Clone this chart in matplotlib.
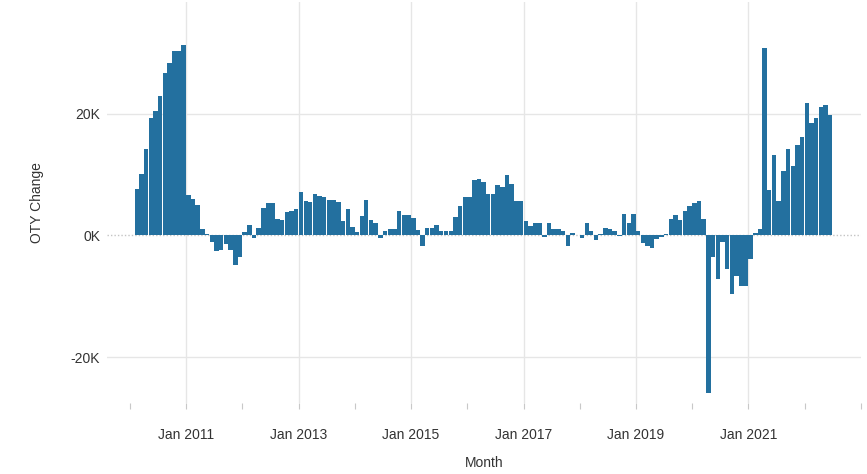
import numpy as np
import pandas as pd
import matplotlib
matplotlib.use("Agg")
import matplotlib.pyplot as plt
import matplotlib.dates as mdates

plt.rcParams['font.family'] = ['Liberation Sans', 'DejaVu Sans']

# Monthly over-the-year change, in thousands (Feb 2010 - Jun 2022)
months = pd.date_range("2010-02-01", "2022-06-01", freq="MS")
oty_change_k = [
    7.7, 10.1, 14.1, 19.2, 20.4, 22.9, 26.7, 28.3, 30.2, 30.2, 31.2,          # 2010
    6.7, 6.0, 5.0, 1.0, 0.2, -1.0, -2.5, -2.4, -1.4, -2.3, -4.9, -3.5,        # 2011
    0.6, 1.8, -0.4, 1.2, 4.5, 5.4, 5.4, 2.7, 2.5, 3.9, 4.0, 4.4,              # 2012
    7.2, 5.7, 5.5, 6.8, 6.5, 6.3, 5.8, 5.9, 5.5, 2.3, 4.4, 1.4,               # 2013
    0.6, 3.2, 5.9, 2.5, 2.0, -0.4, 0.7, 1.0, 1.0, 4.0, 3.4, 3.4,              # 2014
    2.8, 0.9, -1.7, 1.2, 1.2, 1.7, 0.8, 0.7, 0.7, 3.0, 4.8, 6.3,              # 2015
    6.3, 9.1, 9.2, 8.7, 6.8, 6.8, 8.2, 7.9, 10.0, 8.4, 5.7, 5.6,              # 2016
    2.3, 1.5, 2.0, 2.1, -0.3, 2.1, 1.0, 1.0, 0.7, -1.8, 0.4, 0.1,             # 2017
    -0.4, 2.1, 0.8, -0.7, 0.3, 1.2, 1.1, 0.8, -0.1, 3.6, 2.0, 3.6,            # 2018
    0.7, -1.3, -1.7, -2.0, -0.6, -0.2, 0.2, 2.7, 3.4, 2.6, 4.0, 4.9,          # 2019
    5.3, 5.7, 2.7, -25.8, -3.6, -7.2, -1.0, -5.5, -9.6, -6.7, -8.2, -8.2,     # 2020
    -3.9, 0.4, 1.1, 30.8, 7.5, 13.2, 5.7, 10.5, 14.2, 11.4, 14.8, 16.1,       # 2021
    21.8, 18.5, 19.3, 21.1, 21.4, 19.8,                                       # 2022
]

label_years = [2011, 2013, 2015, 2017, 2019, 2021]
y_ticks = [-20, 0, 20]

bar_color = "#23709f"
grid_color = "#e6e6e6"
text_color = "#333333"

fig = plt.figure(figsize=(8.67, 4.74), dpi=100)
ax = fig.add_axes([107 / 867, 1 - 403 / 474, (861 - 107) / 867, (403 - 2) / 474])

# --- bars ---
ax.bar(months, oty_change_k, width=29, align="edge", color=bar_color,
       linewidth=0, zorder=3)

# --- zero line (dotted) and grid ---
ax.axhline(0, color="#c4c4c4", linestyle=(0, (1, 1.5)), linewidth=1, zorder=1)
for yv in y_ticks:
    if yv != 0:
        ax.axhline(yv, color=grid_color, linewidth=1, zorder=0)

major_ticks = pd.to_datetime([f"{y}-01-01" for y in label_years])
for d in major_ticks:
    ax.axvline(d, color=grid_color, linewidth=1, zorder=0)

# --- axes ---
ax.set_xlim(pd.Timestamp("2009-08-04"), pd.Timestamp("2023-01-02"))
ax.set_ylim(-27.46, 38.28)

ax.set_xticks(major_ticks)
ax.set_xticklabels([f"Jan {y}" for y in label_years])
ax.xaxis.set_minor_locator(mdates.YearLocator(1))
ax.tick_params(axis="x", which="both", length=4, width=0.8, color="#c8c8c8",
               labelsize=10, labelcolor=text_color, pad=14)

ax.set_yticks(y_ticks)
ax.set_yticklabels([f"{v}K" for v in y_ticks])
ax.tick_params(axis="y", length=0, labelsize=10, labelcolor=text_color, pad=5)

for s in ax.spines.values():
    s.set_visible(False)

ax.set_xlabel("Month", fontsize=10, color=text_color, labelpad=10)
ax.set_ylabel("OTY Change", fontsize=10, color=text_color, labelpad=19)

fig.savefig("out.png", dpi=100)
